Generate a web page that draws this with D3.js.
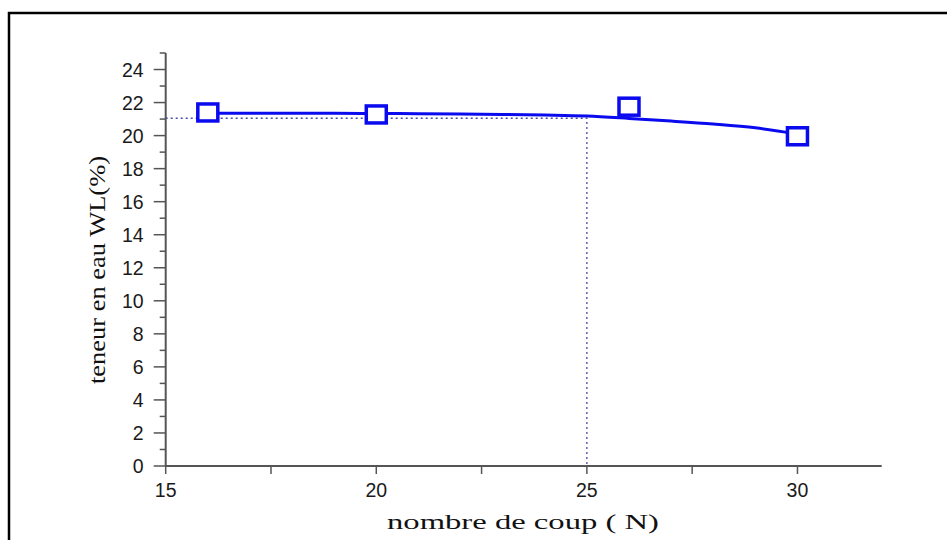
<!DOCTYPE html>
<html><head><meta charset="utf-8">
<script src="https://cdn.jsdelivr.net/npm/d3@7"></script>
<style>body{margin:0;background:#fff}svg{display:block}</style>
</head><body>
<svg id="c" width="947" height="540"></svg>
<script>
const pointsN = [16, 20, 26, 30];
const pointsWL = [21.4, 21.28, 21.75, 19.96];
const curveN = [16, 17, 18, 19, 20, 21, 22, 23, 24, 25, 26, 27, 28, 29, 30];
const curveWL = [21.36, 21.36, 21.35, 21.35, 21.34, 21.33, 21.31, 21.28, 21.24, 21.18, 21.04, 20.88, 20.70, 20.47, 20.1];
const refN = 25, refWL = 21.05;
const xTicks = [15, 20, 25, 30];
const yTicks = [0, 2, 4, 6, 8, 10, 12, 14, 16, 18, 20, 22, 24];
const xTitle = "nombre de coup ( N)";
const yTitle = "teneur en eau WL(%)";

const svg = d3.select("#c");
svg.append("rect").attr("x", 9).attr("y", 13).attr("width", 960).attr("height", 560)
  .attr("fill", "none").attr("stroke", "#000").attr("stroke-width", 2.5);

const x = d3.scaleLinear().domain([15, 32]).range([165.7, 881.7]);
const y = d3.scaleLinear().domain([0, 25]).range([466, 53]);
const axisColor = "#555";

// x axis
const gx = svg.append("g").attr("transform", "translate(0,466)");
gx.append("line").attr("x1", x(15)).attr("x2", x(32)).attr("stroke", axisColor).attr("stroke-width", 2);
gx.selectAll(".mj").data(d3.range(15, 32.01, 2.5)).join("line")
  .attr("x1", d => x(d)).attr("x2", d => x(d)).attr("y1", 0).attr("y2", 8)
  .attr("stroke", axisColor).attr("stroke-width", 1.5);
gx.selectAll("text").data(xTicks).join("text")
  .attr("x", d => x(d)).attr("y", 31).attr("text-anchor", "middle")
  .attr("font-family", "Liberation Sans, Arial").attr("font-size", 19.5).attr("fill", "#1a1a1a")
  .text(d => d);

// y axis
const gy = svg.append("g").attr("transform", "translate(165.7,0)");
gy.append("line").attr("y1", y(0)).attr("y2", y(25)).attr("stroke", axisColor).attr("stroke-width", 2);
gy.selectAll(".tk").data(d3.range(0, 25.01, 1)).join("line")
  .attr("y1", d => y(d)).attr("y2", d => y(d)).attr("x1", d => d % 2 === 0 ? -12 : -6).attr("x2", 0)
  .attr("stroke", axisColor).attr("stroke-width", 1.5);
gy.selectAll("text").data(yTicks).join("text")
  .attr("x", -22).attr("y", d => y(d) + 7).attr("text-anchor", "end")
  .attr("font-family", "Liberation Sans, Arial").attr("font-size", 19.5).attr("fill", "#1a1a1a")
  .text(d => d);

// reference dotted lines
svg.append("path")
  .attr("d", `M${x(15)},${y(refWL)}H${x(refN)}V${y(0)}`)
  .attr("fill", "none").attr("stroke", "#4a4aa8").attr("stroke-width", 1.3).attr("stroke-dasharray", "2,3");

// fitted curve
const line = d3.line().x(d => x(d[0])).y(d => y(d[1])).curve(d3.curveMonotoneX);
svg.append("path").datum(curveN.map((n, i) => [n, curveWL[i]]))
  .attr("d", line).attr("fill", "none").attr("stroke", "#0a0aee").attr("stroke-width", 3);

// markers
svg.selectAll(".pt").data(pointsN.map((n, i) => [n, pointsWL[i]])).join("rect")
  .attr("x", d => x(d[0]) - 10).attr("y", d => y(d[1]) - 8.5).attr("width", 20).attr("height", 17)
  .attr("fill", "#fff").attr("stroke", "#0a0aee").attr("stroke-width", 3.5);

// titles
svg.append("text").attr("x", 523).attr("y", 529).attr("text-anchor", "middle")
  .attr("font-family", "Liberation Serif, Times New Roman").attr("font-size", 22).attr("fill", "#111")
  .attr("textLength", 272).attr("lengthAdjust", "spacingAndGlyphs").text(xTitle);
svg.append("text").attr("transform", "translate(105,270) rotate(-90)").attr("text-anchor", "middle")
  .attr("font-family", "Liberation Serif, Times New Roman").attr("font-size", 24).attr("fill", "#111")
  .attr("textLength", 228).attr("lengthAdjust", "spacingAndGlyphs").text(yTitle);
</script>
</body></html>
